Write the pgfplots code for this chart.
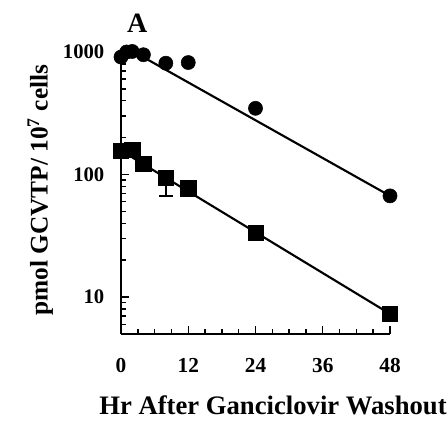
\documentclass[border=0pt]{standalone}
\usepackage{fontspec}
\setmainfont{Liberation Serif}
\usepackage{pgfplots}
\pgfplotsset{compat=1.18}
\begin{document}
\begin{tikzpicture}
\useasboundingbox (-90.75pt,-66.75pt) rectangle (245.25pt,250.5pt);
\begin{axis}[
  at={(0,0)}, anchor=south west,
  scale only axis, width=201.75pt, height=211.5pt,
  ymode=log, log basis y=10,
  xmin=0, xmax=48, ymin=5, ymax=1000,
  clip=false,
  axis x line=bottom, axis y line=left,
  axis line style={-, line width=1.5pt},
  tick style={line width=1.1pt, black},
  tick align=inside,
  major tick length=6pt, minor tick length=3.5pt,
  xtick={0,12,24,36,48}, minor x tick num=3,
  ytick={10,100,1000}, yticklabels={10,100,1000},
  minor ytick={5,6,7,8,9,20,30,40,50,60,70,80,90,200,300,400,500,600,700,800,900},
  font=\bfseries,
  xticklabel style={font=\fontsize{16}{16}\selectfont\bfseries, yshift=-15pt},
  yticklabel style={font=\fontsize{15.5}{15.5}\selectfont\bfseries, xshift=-9pt},
  /pgf/number format/assume math mode=true,
  xlabel={Hr After Ganciclovir Washout},
  ylabel={pmol GCVTP/ 10$^{\mathbf{7}}$ cells},
  every axis x label/.style={at={(axis description cs:0.565,-0.252)}, anchor=center, font=\fontsize{20}{20}\selectfont\bfseries},
  every axis y label/.style={at={(axis description cs:-0.30,0.51)}, rotate=90, anchor=center, font=\fontsize{19}{19}\selectfont\bfseries},
]
% fitted lines
\addplot[black, line width=1.6pt, no marks] coordinates {(3,962) (48,67)};
\addplot[black, line width=1.6pt, no marks] coordinates {(2,138) (48,7.3)};
% circles
\addplot[only marks, mark=*, mark size=5.3pt, black] coordinates {
(0,910) (1,1000) (2,1010) (4,950) (8,810) (12,820) (24,347) (48,67)};
% squares
\addplot[only marks, mark=square*, mark size=5.8pt, black,
  error bars/.cd, y dir=minus, y explicit,
  error bar style={line width=1.2pt}, error mark options={rotate=90, mark size=5pt, line width=1.2pt}] coordinates {
(0,157) +- (0,0)
(2,160) +- (0,0)
(4,123) +- (0,0)
(8,94) +- (0,27)
(12,77) +- (0,0)
(24,33.5) +- (0,0)
(48,7.3) +- (0,0)};
\node[font=\fontsize{21}{21}\selectfont\bfseries] at (axis description cs:0.06,1.103) {A};
\end{axis}
\end{tikzpicture}
\end{document}
